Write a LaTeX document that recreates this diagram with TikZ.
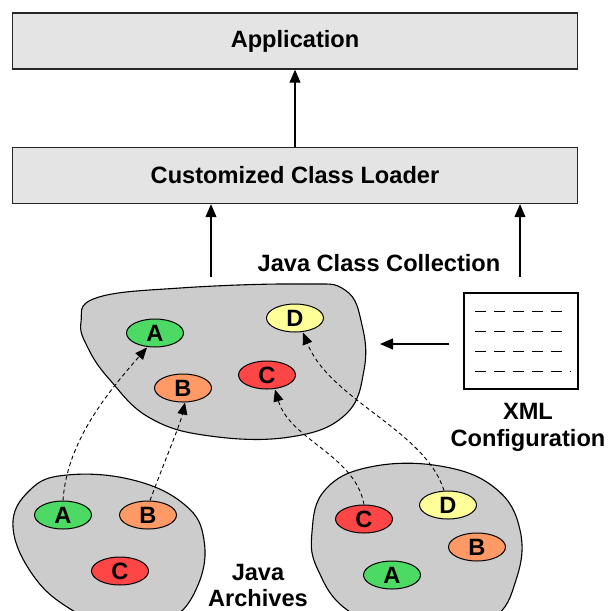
\documentclass[tikz,border=0pt]{standalone}
\usepackage{fontspec}
\setmainfont{Liberation Sans}
\usetikzlibrary{shapes.geometric,arrows.meta}

\definecolor{boxgray}{HTML}{E4E4E4}
\definecolor{blobgray}{HTML}{CCCCCC}
\definecolor{clsA}{HTML}{4CD964}
\definecolor{clsB}{HTML}{FF9966}
\definecolor{clsC}{HTML}{FF4646}
\definecolor{clsD}{HTML}{FFFF99}

\tikzset{
  lbl/.style={font=\fontsize{23.6}{28}\selectfont\bfseries, text=black},
  layer/.style={draw=black!85, line width=1.4pt, fill=boxgray, minimum width=565, minimum height=56, inner sep=0, lbl},
  blob/.style={draw=black, line width=1.1pt, fill=blobgray},
  cls/.style={ellipse, draw=black, line width=1pt, minimum width=57, minimum height=28, inner sep=0, lbl},
  flow/.style={line width=1.2pt, -{Triangle[length=13pt,width=11pt]}},
  link/.style={line width=0.9pt, dash pattern=on 4pt off 3pt, -{Triangle[length=12pt,width=10pt]}},
  doc/.style={draw=black, line width=1.2pt, fill=white, minimum width=114, minimum height=96, inner sep=0},
  docline/.style={line width=0.9pt, dash pattern=on 11pt off 8pt},
}

\begin{document}
\begin{tikzpicture}[x=1pt, y=-1pt]
\useasboundingbox (0,0) rectangle (609,611);
\clip (0,0) rectangle (609,611);

% layers
\node[layer] (app) at (295,41) {Application};
\node[layer] (loader) at (295,175.5) {Customized Class Loader};
\draw[flow] (loader.north) -- (app.south);

% Java class collection
\draw[blob] plot[smooth cycle, tension=0.7] coordinates {
  (81,322) (96,298) (180,288) (300,284) (345,290) (362,325)
  (364,370) (345,415) (290,437) (210,436) (150,418) (110,380) (88,348)};
\node[lbl] (colltitle) at (379,263) {Java Class Collection};

\node[cls, fill=clsA] (cA) at (155,333) {A};
\node[cls, fill=clsD] (cD) at (295,318) {D};
\node[cls, fill=clsC] (cC) at (267,375) {C};
\node[cls, fill=clsB] (cB) at (183,388) {B};

\coordinate (collL) at (211,277);
\coordinate (collR) at (520,277);
\draw[flow] (collL) -- (collL |- loader.south);
\draw[flow] (collR) -- (collR |- loader.south);

% XML configuration
\node[doc] (xml) at (521,341) {};
\foreach \yy in {311,331,351} {
  \draw[docline] ([xshift=12pt]xml.west |- 0,\yy) -- ++(87,0);
}
\draw[docline] ([xshift=12pt]xml.west |- 0,371) -- ++(96,0);
\node[lbl, align=center] (xmltitle) at (528,427) {XML\\[-1pt]Configuration};
\coordinate (collin) at (380,344);
\draw[flow] ([xshift=-14pt]xml.west |- collin) -- (collin);

% Java archives
\draw[blob] plot[smooth cycle, tension=0.7] coordinates {
  (13,527) (30,490) (67,475) (133,480) (185,505) (204,540)
  (198,585) (170,620) (120,632) (75,612) (35,578)};
\draw[blob] plot[smooth cycle, tension=0.7] coordinates {
  (312,532) (325,490) (370,467) (440,466) (495,488) (520,530)
  (516,580) (490,620) (420,640) (350,612) (318,570)};

\node[cls, fill=clsA] (lA) at (63,515) {A};
\node[cls, fill=clsB] (lB) at (148,515) {B};
\node[cls, fill=clsC] (lC) at (120,571) {C};

\node[cls, fill=clsC] (rC) at (364,519) {C};
\node[cls, fill=clsD] (rD) at (448,505) {D};
\node[cls, fill=clsB] (rB) at (477,547) {B};
\node[cls, fill=clsA] (rA) at (392,575) {A};

\node[lbl, align=center] (jartitle) at (258,585) {Java\\[-2pt]Archives};

% class origins
\draw[link] (lA.north) .. controls (67,440) and (110,390) .. ([xshift=-8pt]cA.south);
\draw[link] ([xshift=2pt]lB.north) .. controls (165,460) and (180,425) .. ([xshift=2pt]cB.south);
\draw[link] (rC.north) .. controls (355,455) and (290,440) .. ([xshift=8pt]cC.south);
\draw[link] ([xshift=-4pt]rD.north) .. controls (425,430) and (330,400) .. ([xshift=8pt]cD.south);
\end{tikzpicture}
\end{document}
